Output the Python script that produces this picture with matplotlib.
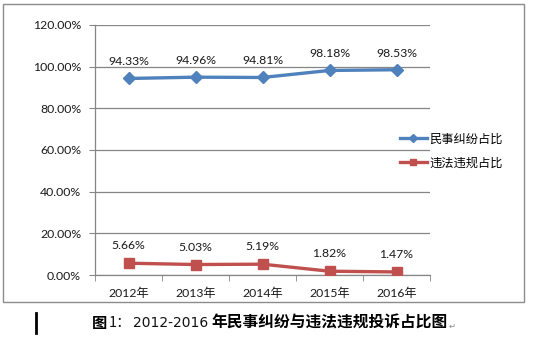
import matplotlib
matplotlib.use("Agg")
import matplotlib.pyplot as plt
from matplotlib.patches import Rectangle
from matplotlib.lines import Line2D

plt.rcParams['font.family'] = ['Lato', 'Noto Sans CJK SC', 'DejaVu Sans']

years = ["2012年", "2013年", "2014年", "2015年", "2016年"]
civil = [94.33, 94.96, 94.81, 98.18, 98.53]
illegal = [5.66, 5.03, 5.19, 1.82, 1.47]
series_names = ["民事纠纷占比", "违法违规占比"]
yticks = [0, 20, 40, 60, 80, 100, 120]

W, H = 547, 341
fig = plt.figure(figsize=(W / 100, H / 100), dpi=100)

def fx(px):
    return px / W

def fy(py):
    return 1 - py / H

# outer chart frame
fig.patches.append(Rectangle((fx(3), fy(302)), fx(524) - fx(3), fy(4) - fy(302),
                             transform=fig.transFigure, fill=False,
                             edgecolor='#8c8c8c', linewidth=1.0))

ax = fig.add_axes([fx(95), fy(275), fx(430) - fx(95), fy(25) - fy(275)])
x = list(range(len(years)))
blue = '#4F81BD'
red = '#C0504D'
ax.plot(x, civil, color=blue, lw=2.4, marker='D', ms=6.5, label=series_names[0], zorder=3)
ax.plot(x, illegal, color=red, lw=2.4, marker='s', ms=7, label=series_names[1], zorder=3)

for xi, v in zip(x, civil):
    ax.annotate(f"{v:.2f}%", (xi, v), xytext=(0, 12), textcoords='offset points',
                ha='center', va='center', fontsize=8.8, color='#1a1a1a')
for xi, v in zip(x, illegal):
    ax.annotate(f"{v:.2f}%", (xi, v), xytext=(0, 12.5), textcoords='offset points',
                ha='center', va='center', fontsize=8.8, color='#1a1a1a')

ax.set_xlim(-0.5, len(years) - 0.5)
ax.set_ylim(0, 120)
ax.set_yticks(yticks)
ax.set_yticklabels([f"{t:.2f}%" for t in yticks], fontsize=8.8, color='#1a1a1a')
ax.set_xticks(x)
ax.set_xticklabels(years, fontsize=8.8, color='#1a1a1a')
ax.set_xticks([i - 0.5 for i in range(len(years) + 1)], minor=True)
ax.tick_params(axis='x', which='major', length=0, pad=9)
ax.tick_params(axis='x', which='minor', length=4, color='#868686')
ax.tick_params(axis='y', length=4, color='#868686', pad=6)
ax.grid(axis='y', color='#868686', lw=0.9)
ax.set_axisbelow(True)
for s in ['top', 'right']:
    ax.spines[s].set_visible(False)
for s in ['left', 'bottom']:
    ax.spines[s].set_color('#868686')
    ax.spines[s].set_linewidth(0.9)

handles = [Line2D([], [], color=blue, lw=2.4, marker='D', ms=4.5),
           Line2D([], [], color=red, lw=2.4, marker='s', ms=5)]
fig.legend(handles, series_names, loc='center left',
           bbox_to_anchor=(fx(400), fy(151)), frameon=False,
           prop={'family': 'Noto Sans CJK SC', 'size': 8.8},
           handlelength=2.2, handletextpad=0.2, labelspacing=0.9,
           borderpad=0, borderaxespad=0)

# caption
fig.lines.append(Line2D([fx(36), fx(36)], [fy(313), fy(333)], transform=fig.transFigure,
                        color='black', lw=2.0))
cy = fy(323)
fig.text(fx(92), cy, "图", fontsize=11, fontweight='bold', va='center', ha='left',
         family='Noto Sans CJK SC')
fig.text(fx(109), cy, "1：", fontsize=10.5, va='center', ha='left',
         family='Noto Sans CJK SC', color='#111111')
fig.text(fx(133), cy, "2012-2016", fontsize=10, va='center', ha='left',
         family='DejaVu Sans', color='#111111')
fig.text(fx(211), cy, "年民事纠纷与违法违规投诉占比图", fontsize=11.3, fontweight='bold',
         va='center', ha='left', family='Noto Sans CJK SC')
fig.text(fx(449), fy(326), "↵", fontsize=6, va='center', ha='left',
         family='DejaVu Sans', color='#888888')

fig.savefig("out.png", dpi=100)
